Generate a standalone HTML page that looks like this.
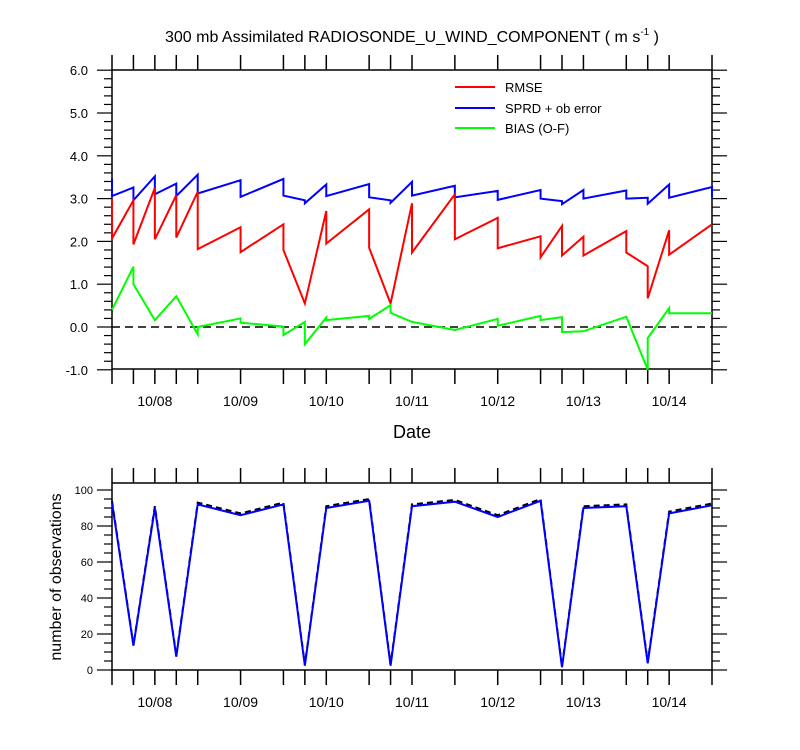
<!DOCTYPE html>
<html><head><meta charset="utf-8">
<style>
body{margin:0;background:#fff;}
svg{display:block;font-family:"Liberation Sans",Arial,sans-serif;}
</style></head>
<body>
<svg id="chart" width="800" height="750" viewBox="0 0 800 750" xmlns="http://www.w3.org/2000/svg">
<rect width="800" height="750" fill="#fff"/>
<text x="412" y="42" font-size="16" text-anchor="middle">300 mb Assimilated RADIOSONDE_U_WIND_COMPONENT ( m s<tspan font-size="10" dy="-7">-1</tspan><tspan dy="7"> )</tspan></text>
<text x="412" y="438" font-size="18" text-anchor="middle">Date</text>
<text transform="translate(61,577) rotate(-90)" font-size="16" text-anchor="middle">number of observations</text>
<g id="top"></g>
<g id="bot"></g>
</svg>
<script>
// hours since 10/07 12Z
const times = [0,6,12,18,24,36,48,54,60,72,78,84,96,108,120,126,132,144,150,156,168];
const dateLabels = ["10/08","10/09","10/10","10/11","10/12","10/13","10/14"];
const dateHours = [12,36,60,84,108,132,156];
const topTicks = ["-1.0","0.0","1.0","2.0","3.0","4.0","5.0","6.0"];
const topTickVals = [-1,0,1,2,3,4,5,6];
const botTicks = ["0","20","40","60","80","100"];
const botTickVals = [0,20,40,60,80,100];
// each series: value arriving at time (a) and value leaving time (b)
const rmseA = [3.0,2.96,3.25,3.08,3.16,2.33,2.4,0.55,2.71,2.75,0.55,2.89,3.1,2.55,2.12,2.36,2.11,2.24,1.42,2.26,2.4];
const rmseB = [2.07,1.93,2.05,2.09,1.82,1.75,1.8,0.55,1.95,1.85,0.55,1.74,2.05,1.84,1.63,1.67,1.67,1.74,0.67,1.69,2.4];
const sprdA = [3.47,3.26,3.52,3.35,3.56,3.43,3.46,2.96,3.33,3.34,2.96,3.39,3.3,3.18,3.2,2.94,3.2,3.19,3.02,3.33,3.27];
const sprdB = [3.06,2.96,3.1,3.06,3.12,3.04,3.07,2.89,3.06,3.03,2.9,3.07,3.03,2.97,3.0,2.87,3.0,3.0,2.88,3.02,3.02];
const biasA = [0.4,1.41,0.16,0.72,-0.17,0.2,0.01,0.12,0.22,0.26,0.51,0.12,-0.07,0.19,0.26,0.23,-0.1,0.24,-1.0,0.44,0.32];
const biasB = [0.4,1.0,0.16,0.72,0.0,0.1,-0.19,-0.4,0.16,0.19,0.33,0.12,-0.07,0.03,0.16,-0.12,-0.1,0.24,-0.26,0.32,0.32];
const obsUsed = [93,13.5,90,7.4,92,86,92,2.4,90,94,2.4,91,93.5,85,94,1.5,90,91,3.7,87,91.5];
const obsTotal = [94,14,91,8,93,87,93,3,91,95,3,92,94.5,86,95,2,91,92,4.5,88,92.5];

const NS = "http://www.w3.org/2000/svg";
const X0 = 112, X1 = 712;
const xs = h => X0 + (X1 - X0) * h / 168;
const yTop = v => 327 - (v) * 42.8;
const yBot = v => 670 - v * 1.8;

function el(tag, attrs, parent, text) {
  const e = document.createElementNS(NS, tag);
  for (const k in attrs) e.setAttribute(k, attrs[k]);
  if (text !== undefined) e.textContent = text;
  parent.appendChild(e);
  return e;
}
function frame(g, top, bot, name) {
  const r = el("rect", {x:X0, y:top, width:X1-X0, height:bot-top, fill:"none", stroke:"#000", "stroke-width":1.5}, g);
  
  
  times.forEach(t => {
    const x = xs(t);
    el("line", {x1:x, y1:top, x2:x, y2:top-15, stroke:"#000", "stroke-width":1.5}, g);
    el("line", {x1:x, y1:bot, x2:x, y2:bot+15, stroke:"#000", "stroke-width":1.5}, g);
  });
  dateLabels.forEach((d, i) => {
    const t = el("text", {x:xs(dateHours[i]), y:bot+37, "font-size":14, "text-anchor":"middle"}, g, d);
    
    
  });
}
function sawPath(A, B, ys) {
  let d = "";
  times.forEach((t, i) => {
    const x = xs(t);
    d += (i === 0 ? "M" : "L") + x + "," + ys(A[i]) + "L" + x + "," + ys(B[i]);
  });
  return d;
}

// top panel
const gt = document.getElementById("top");
frame(gt, 70, 369, "top");
for (let v = -1; v <= 6.001; v += 0.2) {
  const y = yTop(v);
  const major = Math.abs(v - Math.round(v)) < 0.01;
  const len = major ? 15 : 8;
  el("line", {x1:X0-len, y1:y, x2:X0, y2:y, stroke:"#000", "stroke-width":1.2}, gt);
  el("line", {x1:X1, y1:y, x2:X1+len, y2:y, stroke:"#000", "stroke-width":1.2}, gt);
}
topTicks.forEach((lab, i) => {
  const t = el("text", {x:88, y:yTop(topTickVals[i])+5, "font-size":13, "text-anchor":"end"}, gt, lab);
  
  
});
const zl = el("line", {x1:X0, y1:yTop(0), x2:X1, y2:yTop(0), stroke:"#000", "stroke-width":1.5, "stroke-dasharray":"8,5"}, gt);


const series = [["sprd-line", sprdA, sprdB, "#0000ff"], ["rmse-line", rmseA, rmseB, "#ff0000"], ["bias-line", biasA, biasB, "#00ff00"]];
series.forEach(s => {
  const p = el("path", {d:sawPath(s[1], s[2], yTop), fill:"none", stroke:s[3], "stroke-width":2, "stroke-linejoin":"miter"}, gt);
  
  
});
const legend = [["RMSE", "#ff0000", 92], ["SPRD + ob error", "#0000ff", 113], ["BIAS (O-F)", "#00ff00", 133]];
legend.forEach(l => {
  const g = el("g", {}, gt);
  
  
  el("line", {x1:455, y1:l[2]-5, x2:495, y2:l[2]-5, stroke:l[1], "stroke-width":2}, g);
  el("text", {x:505, y:l[2], "font-size":13}, g, l[0]);
});

// bottom panel
const gb = document.getElementById("bot");
frame(gb, 483, 670, "bottom");
for (let v = 0; v <= 100; v += 5) {
  const y = yBot(v);
  const major = v % 20 === 0;
  const len = major ? 15 : 8;
  el("line", {x1:X0-len, y1:y, x2:X0, y2:y, stroke:"#000", "stroke-width":1.2}, gb);
  el("line", {x1:X1, y1:y, x2:X1+len, y2:y, stroke:"#000", "stroke-width":1.2}, gb);
}
botTicks.forEach((lab, i) => {
  const t = el("text", {x:93, y:yBot(botTickVals[i])+4, "font-size":11, "text-anchor":"end"}, gb, lab);
  
  
});
const pTot = el("path", {d:times.map((t,i)=>(i?"L":"M")+xs(t)+","+yBot(obsTotal[i])).join(""), fill:"none", stroke:"#000", "stroke-width":2, "stroke-dasharray":"6,4"}, gb);


const pUsed = el("path", {d:times.map((t,i)=>(i?"L":"M")+xs(t)+","+yBot(obsUsed[i])).join(""), fill:"none", stroke:"#0000ff", "stroke-width":2}, gb);


</script>
</body></html>
